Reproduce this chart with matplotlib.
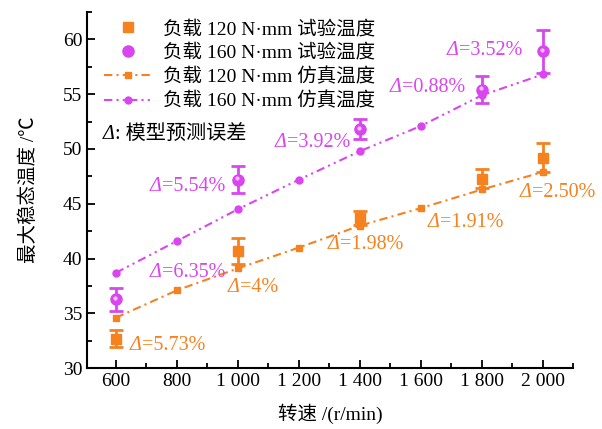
import matplotlib
matplotlib.use('Agg')
import matplotlib.pyplot as plt
import matplotlib.transforms as mtransforms
from matplotlib.lines import Line2D
from matplotlib.ticker import MultipleLocator, FuncFormatter

plt.rcParams['font.family'] = ['Liberation Serif', 'Noto Sans CJK SC']

# 转速
speed_exp = [600, 1000, 1400, 1800, 2000]
speed_sim = [600, 800, 1000, 1200, 1400, 1600, 1800, 2000]

# 负载 120 N·mm
exp_120 = [32.7, 40.7, 43.7, 47.3, 49.2]
err_120 = [0.8, 1.2, 0.6, 0.9, 1.3]
sim_120 = [34.6, 37.1, 39.1, 41.0, 43.0, 44.6, 46.3, 47.9]

# 负载 160 N·mm
exp_160 = [36.3, 47.2, 51.8, 55.4, 58.9]
err_160 = [1.05, 1.2, 0.9, 1.25, 2.0]
sim_160 = [38.7, 41.6, 44.5, 47.2, 49.8, 52.1, 54.9, 56.8]

# 误差标注
labels_120 = ['5.73%', '4%', '1.98%', '1.91%', '2.50%']
lab_pos_120 = [(646, 32.1), (967, 37.4), (1295, 41.3), (1623, 43.3), (1925, 46.0)]
labels_160 = ['6.35%', '5.54%', '3.92%', '0.88%', '3.52%']
lab_pos_160 = [(711, 38.7), (711, 46.6), (1121, 50.55), (1498, 55.6), (1685, 59.0)]

orange = '#F5821F'
purple = '#D946EF'
fs = 14
lfs = 14.5

fig = plt.figure(figsize=(6.02, 4.29), dpi=100)
ax = fig.add_axes([0.1445, 0.142, 0.808, 0.830])


def delta_text(x, y, rest, color):
    # 斜体 Δ + 正体文字
    t = ax.text(x, y, 'Δ', color=color, fontsize=lfs, fontstyle='italic',
                va='center', ha='left')
    ax.annotate(rest, xy=(1, 0.5), xycoords=t, color=color, fontsize=lfs,
                va='center', ha='left')


ax.plot(speed_sim, sim_120, color=orange, lw=1.5, ls=(0, (4, 2, 1, 2)),
        marker='s', ms=4.5, zorder=2)
ax.plot(speed_sim, sim_160, color=purple, lw=1.5, ls=(0, (4, 2, 1, 2, 1, 2)),
        marker='o', ms=5, zorder=2)

ax.errorbar(speed_exp, exp_120, yerr=err_120, fmt='s', color=orange, ms=7,
            elinewidth=2, capsize=5, capthick=2, zorder=3)
ax.errorbar(speed_exp, exp_160, yerr=err_160, fmt='o', color=purple, ms=8,
            elinewidth=2, capsize=5, capthick=2, zorder=3)
# 球体高光
hl = mtransforms.offset_copy(ax.transData, fig=fig, x=-0.8, y=1.0, units='points')
ax.plot(speed_exp, exp_160, 'o', color='#F3C4FA', ms=3, mec='none',
        transform=hl, zorder=4)

for t, (x, y) in zip(labels_120, lab_pos_120):
    delta_text(x, y, '=' + t, orange)
for t, (x, y) in zip(labels_160, lab_pos_160):
    delta_text(x, y, '=' + t, purple)
delta_text(557, 51.3, ': 模型预测误差', 'black')

ax.set_xlim(505, 2100)
ax.set_ylim(30, 62.5)
ax.xaxis.set_major_locator(MultipleLocator(200))
ax.xaxis.set_minor_locator(MultipleLocator(100))
ax.yaxis.set_major_locator(MultipleLocator(5))
ax.yaxis.set_minor_locator(MultipleLocator(2.5))
ax.xaxis.set_major_formatter(FuncFormatter(
    lambda v, p: f'{int(v):,}'.replace(',', ' ')))
ax.set_xticks([600, 800, 1000, 1200, 1400, 1600, 1800, 2000])
ax.tick_params(which='both', direction='in', labelsize=fs, width=1.3)
ax.tick_params(which='major', length=6)
ax.tick_params(which='minor', length=3.5)
for s in ['top', 'right']:
    ax.spines[s].set_visible(False)
for s in ['left', 'bottom']:
    ax.spines[s].set_linewidth(1.5)

ax.set_xlabel('转速 /(r/min)', fontsize=fs, labelpad=10)
ax.set_ylabel('最大稳态温度 /℃', fontsize=fs, labelpad=18)

handles = [
    Line2D([], [], ls='none', marker='s', color=orange, ms=7),
    Line2D([], [], ls='none', marker='o', color=purple, ms=8),
    Line2D([], [], color=orange, lw=1.5, ls=(0, (4, 2, 1, 2)), marker='s', ms=4.5),
    Line2D([], [], color=purple, lw=1.5, ls=(0, (4, 2, 1, 2, 1, 2)), marker='o', ms=5),
]
names = ['负载 120 N·mm 试验温度', '负载 160 N·mm 试验温度',
         '负载 120 N·mm 仿真温度', '负载 160 N·mm 仿真温度']
ax.legend(handles, names, loc='upper left', bbox_to_anchor=(0.012, 1.01),
          frameon=False, fontsize=fs, handlelength=2.4, handletextpad=0.6,
          labelspacing=0.3, borderaxespad=0.2)

fig.savefig('out.png', dpi=100)
